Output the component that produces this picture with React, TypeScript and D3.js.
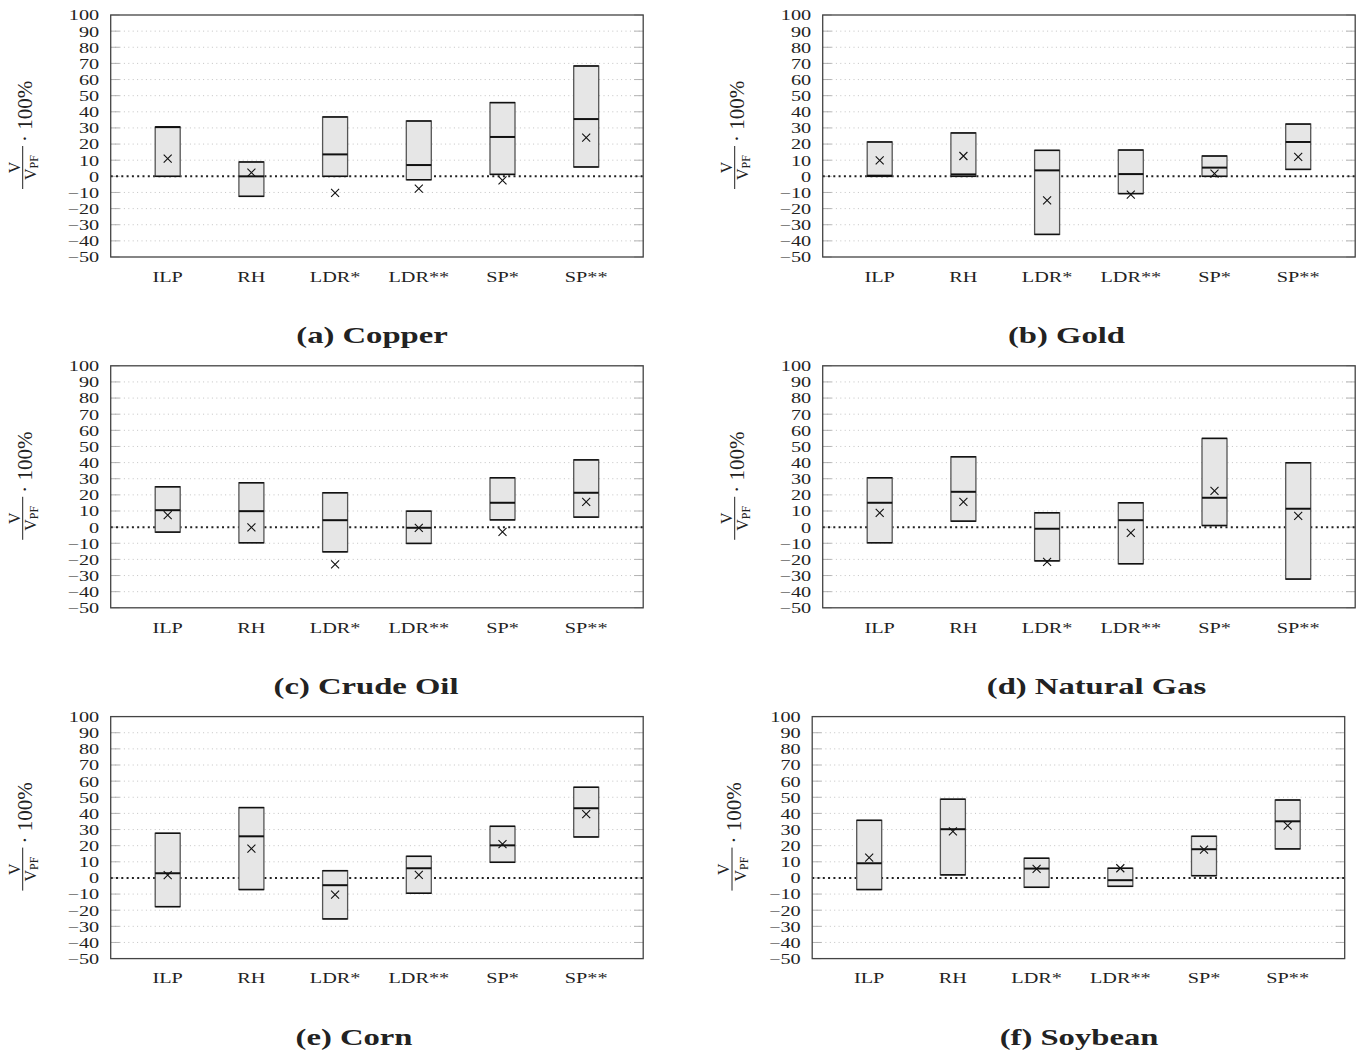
import React from 'react';
import * as d3 from 'd3';

const categories = ['ILP', 'RH', 'LDR*', 'LDR**', 'SP*', 'SP**'];
const yTicks = [100, 90, 80, 70, 60, 50, 40, 30, 20, 10, 0, -10, -20, -30, -40, -50];

// each row: [low, median, high, mean]
const copperStats = [
  [0, 30.5, 30.5, 11], [-12.4, 0, 8.9, 2.3], [0, 13.6, 36.8, -10.3],
  [-2.1, 7.0, 34.3, -7.6], [1.2, 24.4, 45.7, -2.5], [5.8, 35.5, 68.4, 24],
];
const goldStats = [
  [0, 0.4, 21.3, 9.9], [0, 1.2, 26.9, 12.6], [-36, 3.7, 16.1, -14.9],
  [-10.7, 1.4, 16.3, -11.4], [0, 5.4, 12.6, 1.7], [4.3, 21.3, 32.4, 12],
];
const crudeStats = [
  [-3.1, 10.5, 25, 7.4], [-9.7, 9.9, 27.5, -0.2], [-15.3, 4.3, 21.3, -23.1],
  [-10.1, -0.4, 9.9, -0.4], [4.5, 15.1, 30.6, -2.9], [6.2, 21.3, 41.7, 15.7],
];
const gasStats = [
  [-9.7, 15.1, 30.6, 8.9], [3.7, 21.9, 43.6, 15.7], [-20.9, -1.0, 8.9, -21.5],
  [-22.7, 4.3, 15.1, -3.5], [1.0, 18.2, 55, 22.5], [-32.2, 11.4, 39.9, 7.0],
];
const cornStats = [
  [-17.8, 2.9, 27.7, 1.7], [-7.2, 25.8, 43.6, 18.2], [-25.4, -4.5, 4.5, -10.3],
  [-9.5, 6.0, 13.4, 1.9], [9.7, 20.2, 32, 21], [25.4, 43.2, 56.2, 39.5],
];
const soyStats = [
  [-7.2, 9.1, 35.7, 12.6], [1.9, 30.2, 48.8, 28.9], [-5.8, 5.8, 12.2, 5.6],
  [-5.2, -1.4, 6.0, 6.0], [1.4, 17.8, 25.8, 17.6], [18.0, 35.1, 48.3, 32.4],
];

const panels = [
  { caption: '(a) Copper', stats: copperStats, left: 110.7, row: 0, labelX: 22.7, capX: 372 },
  { caption: '(b) Gold', stats: goldStats, left: 822.7, row: 0, labelX: 734.7, capX: 1066.5 },
  { caption: '(c) Crude Oil', stats: crudeStats, left: 110.7, row: 1, labelX: 22.7, capX: 366 },
  { caption: '(d) Natural Gas', stats: gasStats, left: 822.7, row: 1, labelX: 734.7, capX: 1096.5 },
  { caption: '(e) Corn', stats: cornStats, left: 110.7, row: 2, labelX: 22.7, capX: 354 },
  { caption: '(f) Soybean', stats: soyStats, left: 812.2, row: 2, labelX: 732, capX: 1079 },
];

const W = 532.5;
const H = 242;
const ROW_STEP = 350.8;
const SERIF = '"Liberation Serif", "Times New Roman", serif';

function Panel({ p }) {
  const top = 15 + p.row * ROW_STEP;
  const x = d3.scalePoint().domain(categories).range([p.left, p.left + W]).padding(0.681);
  const y = d3.scaleLinear().domain([-50, 100]).range([top + H, top]);
  const bw = 25;
  const yc = top + H / 2;

  return (
    <g>
      {/* grid */}
      {yTicks.filter(t => t !== 0 && t !== 100 && t !== -50).map(t => (
        <line key={'g' + t} x1={p.left} x2={p.left + W} y1={y(t)} y2={y(t)}
          stroke="#bdbdbd" strokeWidth={0.9} strokeDasharray="1 3.4" />
      ))}
      {yTicks.map(t => (
        <g key={'t' + t}>
          <line x1={p.left} x2={p.left + 9} y1={y(t)} y2={y(t)} stroke="#aaa" strokeWidth={0.9} />
          <line x1={p.left + W - 9} x2={p.left + W} y1={y(t)} y2={y(t)} stroke="#aaa" strokeWidth={0.9} />
          <text transform={`translate(${p.left - 11.5},${y(t)}) scale(1.35,1)`} dy="0.36em"
            textAnchor="end" fontFamily={SERIF} fontSize={15} fill="#222">
            {t < 0 ? '\u2212' + Math.abs(t) : t}
          </text>
        </g>
      ))}
      {/* zero line */}
      <line x1={p.left} x2={p.left + W} y1={y(0)} y2={y(0)} stroke="#222"
        strokeWidth={2} strokeDasharray="2 3.3" />
      {/* boxes */}
      {p.stats.map((s, i) => {
        const cx = x(categories[i]);
        const [lo, med, hi, mean] = s;
        return (
          <g key={i}>
            <rect x={cx - bw / 2} y={y(hi)} width={bw} height={y(lo) - y(hi)}
              fill="#e6e6e6" stroke="#555" strokeWidth={1.3} />
            <line x1={cx - bw / 2} x2={cx + bw / 2} y1={y(hi)} y2={y(hi)} stroke="#111" strokeWidth={1.5} />
            <line x1={cx - bw / 2} x2={cx + bw / 2} y1={y(lo)} y2={y(lo)} stroke="#111" strokeWidth={1.5} />
            <line x1={cx - bw / 2} x2={cx + bw / 2} y1={y(med)} y2={y(med)} stroke="#111" strokeWidth={2} />
            <path d={`M${cx - 4},${y(mean) - 4}L${cx + 4},${y(mean) + 4}M${cx - 4},${y(mean) + 4}L${cx + 4},${y(mean) - 4}`}
              stroke="#111" strokeWidth={1.1} fill="none" />
          </g>
        );
      })}
      {/* frame */}
      <rect x={p.left} y={top} width={W} height={H} fill="none" stroke="#444" strokeWidth={1.3} />
      {/* x labels */}
      {categories.map(c => (
        <text key={c} transform={`translate(${x(c)},${top + 266.7}) scale(1.35,1)`}
          textAnchor="middle" fontFamily={SERIF} fontSize={15} fill="#222">{c}</text>
      ))}
      {/* y label */}
      <g transform={`translate(${p.labelX},${yc}) rotate(-90)`} fontFamily={SERIF} fill="#222">
        <line x1={-53} x2={-10} y1={0} y2={0} stroke="#222" strokeWidth={1} />
        <text x={-31.5} y={-3.2} textAnchor="middle" fontSize={16}>V</text>
        <text x={-31.5} y={13.5} textAnchor="middle" fontSize={16}>
          V<tspan fontSize={12} dy={2}>PF</tspan>
        </text>
        <text x={-6} y={8.8} fontSize={21}>{'\u00b7 100%'}</text>
      </g>
      {/* caption */}
      <text transform={`translate(${p.capX},${top + 328}) scale(1.42,1)`} textAnchor="middle"
        fontFamily={SERIF} fontWeight="bold" fontSize={23} fill="#222">{p.caption}</text>
    </g>
  );
}

export default function App() {
  return (
    <svg width={1357} height={1053} style={{ position: 'absolute', left: 0, top: 0, background: '#fff' }}>
      {panels.map(p => <Panel key={p.caption} p={p} />)}
    </svg>
  );
}
